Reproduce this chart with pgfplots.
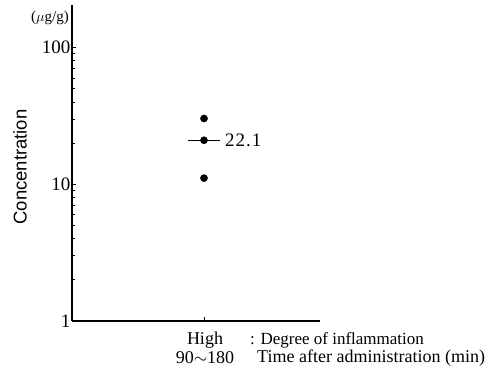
\documentclass[border=0pt]{standalone}
\usepackage{pgfplots}
\pgfplotsset{compat=1.18}
\usepackage{fontspec}
\setmainfont{Liberation Serif}
\setsansfont{Liberation Sans}
\begin{document}
\begin{tikzpicture}[x=1pt,y=1pt]
\useasboundingbox (0,0) rectangle (492,368);
\begin{axis}[
  at={(72pt,47pt)}, anchor=south west,
  scale only axis, width=248pt, height=316pt,
  ymode=log, ymin=1, ymax=205,
  xmin=-1.138, xmax=1,
  axis x line=bottom, axis y line=left,
  axis line style={line width=1.6pt, -},
  ytick={1,10,100}, yticklabels={1,10,100},
  xtick={0}, xticklabels={},
  minor ytick={},
  tick align=inside, major tick length=4pt,
  tick style={line width=0.8pt, black},
  yticklabel style={font=\fontsize{19}{19}\selectfont, inner sep=1.5pt},
  /pgf/number format/assume math mode=true,
  clip=false,
]
\addplot[only marks, mark=*, mark size=3.6pt, black] coordinates {(0,30.3) (0,21) (0,11.1)};
\addplot[black, line width=0.9pt] coordinates {(-0.14,21) (0.14,21)};
\node[anchor=west, font=\fontsize{19}{19}\selectfont, inner sep=0pt] at (axis cs:0.18,21) {2\kern1pt2\kern1pt.\kern1pt1};
\end{axis}
\node[font=\fontsize{15}{15}\selectfont, anchor=east, inner sep=0pt] at (69,350) {($\mu$g/g)};
\node[rotate=90, font=\sffamily\fontsize{18.5}{18.5}\selectfont] at (20,201) {Concentration};
\node[font=\fontsize{18}{18}\selectfont, inner sep=0pt] at (205,28) {High};
\node[font=\fontsize{17}{17}\selectfont, anchor=west, inner sep=0pt] at (250,28) {: Degree of inflammation};
\node[font=\fontsize{18}{18}\selectfont, inner sep=0pt] at (205,10) {90$\sim$180};
\node[font=\fontsize{18}{18}\selectfont, anchor=west, inner sep=0pt] at (257,10) {Time after administration (min)};
\end{tikzpicture}
\end{document}
